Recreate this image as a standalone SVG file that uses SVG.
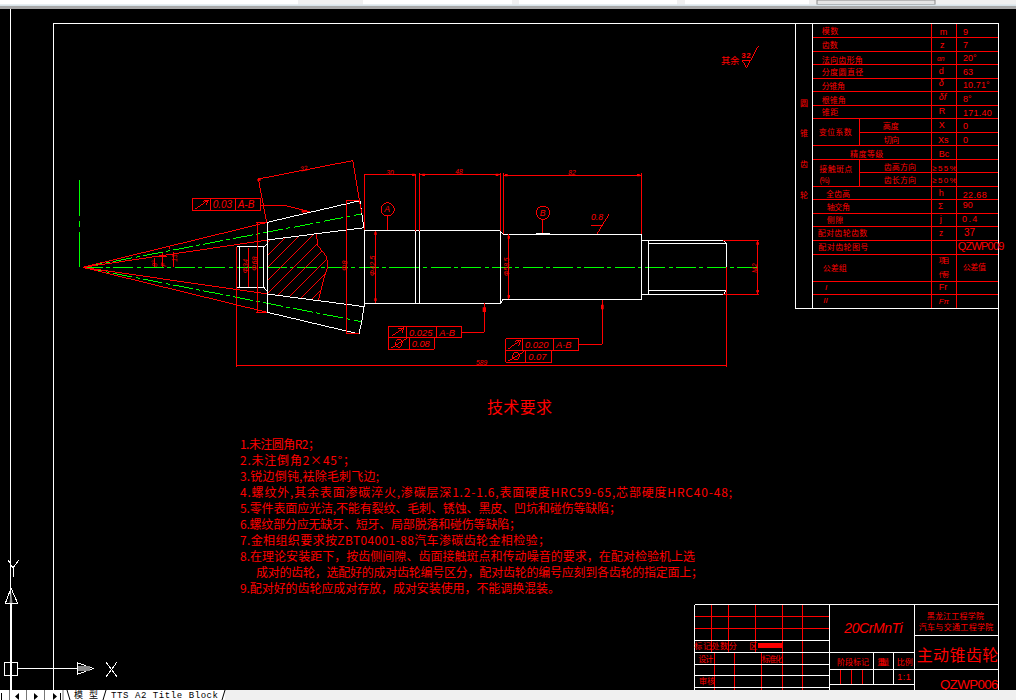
<svg xmlns="http://www.w3.org/2000/svg" width="1016" height="700" viewBox="0 0 1016 700">
<style>
.r,.w,.g,.ri{fill:none;shape-rendering:crispEdges}
.r{stroke:#f00}.w{stroke:#fff}.g{stroke:#0f0}
.f1{stroke-width:1}.f3{stroke-width:3}
.dg{stroke-dasharray:60 10 12 10}
text{fill:#f00;font-family:"Noto Sans CJK SC","Liberation Sans",sans-serif}
.t24{font-size:24px}
.l{font-family:"Liberation Sans","Noto Sans CJK SC",sans-serif}
.i{font-family:"Liberation Sans",sans-serif;font-style:italic}
.n{font-size:12px}
.ui{fill:#000}
</style>
<defs>
<clipPath id="hc"><path d="M622 270L770 250L772 285L800 320L803 352L792 385L775 452L622 432Z"/></clipPath>
</defs>
<rect width="1016" height="700" fill="#000"/>

<g id="toolbar">
<rect width="1016" height="8.7" fill="#f0f0f0"/>
<rect y="6" width="1016" height="2.7" fill="#a8a8a8"/>
<rect width="298" height="4.5" fill="#fff"/>
<rect x="363" width="149" height="4.5" fill="#fff"/>
<rect x="519" width="158" height="4.5" fill="#fff"/>
<rect x="685" width="124" height="4.5" fill="#fff"/>
<rect x="817" width="118" height="4.5" fill="#e4e4e4" stroke="#888" stroke-width="1"/>
<rect x="0" y="4.5" width="1016" height="1.5" fill="#d8e4ea"/>
</g>

<g id="frame">
<path class="w f1" d="M10.5 8.7V690M53.5 690V23.5H998.5V690"/>
</g>

<g id="ucs">
<path class="w f1" d="M11.5 600V690"/>
<path class="w f1" d="M13 577V568L19 560M13 568L8 560"/>
<path class="w f1" d="M11 588L5.500 603H17.500Z"/>
<path fill="#888" d="M11 591L9.500 603H12.500Z"/>
<rect class="w f1" x="4.500" y="662.500" width="13" height="13"/>
<path class="w f1" d="M17.500 668.500H77M77 662.500V674.500L93 668.500Z"/>
<path fill="#888" d="M78 666H90V671H78Z"/>
<path class="w f1" d="M106 662L117 677M117 662L106 677"/>
</g>

<g id="shaft-left" transform="translate(60 150) scale(.33333)">
<path class="g f3" d="M58 90V198M58 212V232M58 246V352"/>
<path class="g f3 dg" d="M68 352H1060"/>
<path class="g f3 dg" d="M68 352L905 192M68 352L905 515"/>
<path class="r f3" d="M68 352L622 217M68 352L622 270M68 352L622 487M68 352L622 432"/>
<path class="r f3" clip-path="url(#hc)" d="M420 480L670 230M458 480L708 230M496 480L746 230M534 480L784 230M572 480L822 230M610 480L860 230M648 480L898 230M686 480L936 230M724 480L974 230M762 480L1012 230M800 480L1050 230"/>
<path class="r f3" d="M770 250L772 285L800 320L803 352L792 385L775 452"/>
<path class="w f3" d="M622 217L900 152L905 190L913 240V465L905 515L897 552L622 487ZM622 270L913 233M622 432L913 470M913 243H1003M913 460H1003"/>
<path class="w f3" d="M530 290H612V412H530ZM538 290V412M612 290L622 282M612 412L622 424"/>
<path class="r f3" d="M595 87L878 32M595 87L620 217M878 30L905 190M602 168H680L750 185M592 217V487M589 217H622M589 487H622M860 152V552M857 152H900M857 552H897M565 295V410M529 290V652M529 647H1060M340 305V352M308 310V352M283 325V352M280 320H320M330 288V298M913 73V240M913 73H1060"/>
<rect class="r f3" x="397" y="145" width="205" height="37"/>
<path class="r f3" d="M452 145V182M527 145V182M405 178L445 150M428 154L445 150L438 165"/>
<path class="r f3" d="M947 243V460M983 198V243M970 243H1003"/>
<circle class="r f3" cx="983" cy="178" r="20" fill="none"/>
<path fill="#f00" d="M592 87h10v5h-10zM943 247h7v8h-7zM943 445h7v8h-7zM725 180l25 5-25 3z"/>
<text class="i" x="458" y="174" font-size="30">0.03</text>
<text class="i" x="533" y="174" font-size="30">A-B</text>
<text class="i" x="720" y="62" font-size="20" transform="rotate(-11 733 55)">32</text>
<text class="i" x="979" y="74" font-size="20">30</text>
<text class="i" x="973" y="187" font-size="26">A</text>
<text class="i" font-size="22" transform="translate(565 370) rotate(-90)">Φ34</text>
<text class="i" font-size="22" transform="translate(592 362) rotate(-90)">Φ68</text>
<text class="i" font-size="22" transform="translate(860 362) rotate(-90)">Φ8</text>
<text class="i" font-size="22" transform="translate(946 378) rotate(-90)">Φ42.5</text>
<text class="i" font-size="20" transform="translate(290 350) rotate(-90)">8°</text>
<text class="i" font-size="20" transform="translate(318 350) rotate(-90)">F</text>
<text class="i" font-size="20" transform="translate(350 335) rotate(-90)">13</text>
</g>

<g id="shaft-right" transform="translate(390 150) scale(.33333)">
<path class="g f3 dg" d="M30 352H1107"/>
<path class="w f3" d="M-20 243H78V460H-20M88 243V460M78 243H332V460H78M332 243L338 253H755V448H338L332 460M755 271H1000L1010 280V421L1000 433H755M775 271V433M775 280H1010M775 421H1010M438 250H480"/>
<path class="r f3" d="M78 73V243M88 70V243M332 70V243M78 73H-60M88 73H332M340 70V253M755 70V253M340 76H755M357 253V448M1000 271H1108M1000 433H1108M1103 271V433M1010 350V652M-200 647H1010M459 208V250M604 226H637L620 253L657 193"/>
<circle class="r f3" cx="459" cy="188" r="20" fill="none"/>
<path class="r f3" d="M215 547H283V458M566 583H637V450"/>
<path class="r f3" d="M-5 530H215V563H-5ZM50 530V563M140 530V563M-5 563H133V598H-5ZM58 563V598"/>
<path class="r f3" d="M347 566H566V601H347ZM398 566V601M491 566V601M347 601H485V637H347ZM407 601V637"/>
<path class="r f3" d="M5 558L42 533M25 537L42 533L36 550M355 597L392 570M375 574L392 570L386 587M2 595L50 566M355 633L403 604"/>
<ellipse class="r f3" cx="26" cy="580" rx="10" ry="12" transform="rotate(30 26 580)"/>
<ellipse class="r f3" cx="378" cy="618" rx="10" ry="12" transform="rotate(30 378 618)"/>
<path fill="#f00" d="M278 472h10v14h-10zM633 464h8v14h-8zM66 71h8v7h-8zM97 71h8v7h-8zM317 71h8v7h-8zM345 72h8v7h-8zM741 72h8v7h-8zM353 258h7v8h-7zM353 435h7v8h-7zM1099 277h8v7h-8zM1099 420h8v7h-8z"/>
<text class="i" x="57" y="557" font-size="28">0.025</text>
<text class="i" x="148" y="557" font-size="28">A-B</text>
<text class="i" x="65" y="591" font-size="28">0.08</text>
<text class="i" x="405" y="593" font-size="28">0.020</text>
<text class="i" x="498" y="593" font-size="28">A-B</text>
<text class="i" x="415" y="629" font-size="28">0.07</text>
<text class="i" x="196" y="73" font-size="20">48</text>
<text class="i" x="535" y="76" font-size="20">82</text>
<text class="i" x="258" y="646" font-size="20">589</text>
<text class="i" x="449" y="197" font-size="26">B</text>
<text class="i" x="603" y="209" font-size="26">0.8</text>
<text class="i" font-size="20" transform="translate(356 378) rotate(-90)">Φ58.5</text>
<text class="i" font-size="20" transform="translate(1102 368) rotate(-90)">M2</text>
</g>

<g id="roughness" transform="translate(700 30) scale(.33333)">
<path class="r f3" d="M127 92H152M127 92L140 113L175 48"/>
<text x="63" y="103" font-size="28" textLength="55">其余</text>
<text class="l" x="124" y="83" font-size="24" font-weight="bold" textLength="28">32</text>
</g>

<g id="title">
<text x="487" y="413" font-size="16" textLength="65">技术要求</text>
</g>

<g id="notes">
<text class="n" x="240" y="448.500" textLength="80">1.未注圆角R2；</text>
<text class="n" x="240" y="464.500" textLength="115">2.未注倒角2×45°；</text>
<text class="n" x="240" y="481" textLength="139">3.锐边倒钝,袪除毛刺飞边;</text>
<text class="n" x="240" y="497" textLength="492">4.螺纹外,其余表面渗碳淬火,渗碳层深1.2-1.6,表面硬度HRC59-65,芯部硬度HRC40-48;</text>
<text class="n" x="240" y="513" textLength="381">5.零件表面应光洁,不能有裂纹、毛刺、锈蚀、黑皮、凹坑和碰伤等缺陷；</text>
<text class="n" x="240" y="529" textLength="281">6.螺纹部分应无缺牙、短牙、局部脱落和碰伤等缺陷；</text>
<text class="n" x="240" y="545" textLength="310">7.金相组织要求按ZBT04001-88汽车渗碳齿轮金相检验；</text>
<text class="n" x="240" y="561" textLength="455">8.在理论安装距下，按齿侧间隙、齿面接触斑点和传动噪音的要求，在配对检验机上选</text>
<text class="n" x="256" y="577" textLength="447">成对的齿轮，选配好的成对齿轮编号区分，配对齿轮的编号应刻到各齿轮的指定面上；</text>
<text class="n" x="240" y="593" textLength="320">9.配对好的齿轮应成对存放，成对安装使用，不能调换混装。</text>
</g>

<g id="param-table">
<path class="r f1" d="M812 37.500H998M812 51.500H998M812 64.500H998M812 78.500H998M812 91.500H998M812 105.500H998M812 118.500H998M859 132.500H998M812 145.500H998M812 159.500H998M859 172.500H998M812 186.500H998M812 199.500H998M812 213.500H998M812 226.500H998M812 240.500H998M812 254.500H998M812 281.500H998M812 294.500H998M859.500 118.500V145.500M859.500 159.500V186.500M931.500 23.500V308.500M956.500 23.500V308.500"/>
<path class="w f1" d="M795.500 23.500V308.500H998.500M812.500 23.500V308.500"/>
<g transform="translate(790 20) scale(.33333)">
<text class="t24" x="95" y="43" textLength="50">模数</text>
<text class="t24" x="95" y="85" textLength="48">齿数</text>
<text class="t24" x="95" y="130" textLength="123">法向齿形角</text>
<text class="t24" x="95" y="166" textLength="125">分度圆直径</text>
<text class="t24" x="95" y="208" textLength="70">分锥角</text>
<text class="t24" x="95" y="248" textLength="72">根锥角</text>
<text class="t24" x="95" y="285" textLength="50">锥距</text>
<text class="t24" x="86" y="346" textLength="99">变位系数</text>
<text class="t24" x="278" y="327" textLength="48">高度</text>
<text class="t24" x="281" y="369" textLength="47">切向</text>
<text class="t24" x="180" y="411" textLength="100">精度等级</text>
<text class="t24" x="30" y="258" textLength="24">圆</text>
<text class="t24" x="30" y="348" textLength="24">锥</text>
<text class="t24" x="30" y="441" textLength="24">齿</text>
<text class="l" x="449" y="46" font-size="27">m</text>
<text class="l" x="450" y="84" font-size="27">z</text>
<text class="i" x="441" y="122" font-size="20">αn</text>
<text class="l" x="446" y="162" font-size="27">d</text>
<text class="i" x="446" y="199" font-size="27">δ</text>
<text class="i" x="446" y="241" font-size="27">δf</text>
<text class="l" x="446" y="281" font-size="27">R</text>
<text class="l" x="446" y="323" font-size="27">X</text>
<text class="l" x="444" y="368" font-size="27">Xs</text>
<text class="l" x="446" y="410" font-size="27">Bc</text>
<text class="l" x="519" y="44" font-size="27">9</text>
<text class="l" x="519" y="83" font-size="27">7</text>
<text class="l" x="519" y="124" font-size="27">20°</text>
<text class="l" x="519" y="165" font-size="27">63</text>
<text class="l" x="519" y="205" font-size="27" textLength="80">10.71°</text>
<text class="l" x="519" y="245" font-size="27">8°</text>
<text class="l" x="519" y="287" font-size="27" textLength="86">171.40</text>
<text class="l" x="519" y="328" font-size="27">0</text>
<text class="l" x="519" y="369" font-size="27">0</text>
</g>
<g transform="translate(790 165) scale(.33333)">
<text class="t24" x="88" y="20" textLength="99">接触斑点</text>
<text class="t24" x="281" y="16" textLength="97">齿高方向</text>
<text class="t24" x="88" y="54" textLength="32">(%)</text>
<text class="t24" x="281" y="54" textLength="97">齿长方向</text>
<text class="t24" x="108" y="96" textLength="72">全齿高</text>
<text class="t24" x="110" y="135" textLength="70">轴交角</text>
<text class="t24" x="110" y="175" textLength="50">侧隙</text>
<text class="t24" x="83" y="213" textLength="149">配对齿轮齿数</text>
<text class="t24" x="85" y="255" textLength="150">配对齿轮图号</text>
<text class="t24" x="98" y="318" textLength="72">公差组</text>
<text x="446" y="295" font-size="20" textLength="32">项目</text>
<text x="446" y="337" font-size="20" textLength="32">代号</text>
<text class="t24" x="518" y="316" textLength="70">公差值</text>
<text class="t24" x="30" y="98" textLength="24">轮</text>
<text class="l" x="427" y="17" font-size="24" textLength="73">≥55%</text>
<text class="l" x="427" y="55" font-size="24" textLength="73">≥50%</text>
<text class="l" x="446" y="93" font-size="27">h</text>
<text class="l" x="444" y="131" font-size="25">Σ</text>
<text class="l" x="449" y="172" font-size="27">j</text>
<text class="l" x="447" y="213" font-size="25">z</text>
<text class="l" x="446" y="375" font-size="27">Fr</text>
<text class="i" x="446" y="417" font-size="24">Fπ</text>
<text class="l" x="518" y="98" font-size="27" textLength="72">22.68</text>
<text class="l" x="518" y="130" font-size="27">90</text>
<text class="l" x="516" y="172" font-size="27" textLength="46">0.4</text>
<text class="l" x="522" y="214" font-size="30">37</text>
<text class="l" x="503" y="255" font-size="33" textLength="140">QZWP009</text>
<text class="i" x="105" y="376" font-size="24">I</text>
<text class="i" x="100" y="415" font-size="24">II</text>
</g>
</g>

<g id="title-block">
<path class="r f1" d="M694 616.500H829M694 628.500H829M711.500 604V652M728.500 604V652M755.500 604V652M714.500 652V690M734.500 652V690M761.500 652V690M782.500 604V690M802.500 604V690M840.500 669V684M851.500 669V684M862.500 669V684"/>
<rect x="758" y="643" width="24.500" height="5" fill="#f00"/>
<path class="w f1" d="M694.500 604.500H998M694.500 604.500V690M829.500 604.500V690M914.500 604.500V690M694.500 640.500H829M694.500 652.500H914M694.500 664.500H829M694.500 675.500H829M694.500 687.500H829M829.500 684.500H914M829.500 669.500H998M914.500 635.500H998M873.500 652.500V684.500M893.500 652.500V684.500"/>
<g transform="translate(690 600) scale(.33333)">
<text class="t24" x="13" y="148" textLength="127">标记处数分</text>
<text class="t24" x="178" y="148">区</text>
<text class="t24" x="25" y="187" textLength="45">设计</text>
<text class="t24" x="215" y="187" textLength="63">标准化</text>
<text class="t24" x="27" y="252" textLength="48">审核</text>
<text class="t24" x="441" y="195" textLength="96">阶段标记</text>
<text class="t24" x="562" y="195" textLength="36">重量</text>
<text class="t24" x="620" y="195" textLength="48">比例</text>
<text class="l" x="622" y="240" font-size="27" textLength="40">1:1</text>
<text class="i" x="463" y="100" font-size="42" textLength="175">20CrMnTi</text>
<text class="t24" x="710" y="58" textLength="172">黑龙江工程学院</text>
<text class="t24" x="686" y="90" textLength="224">汽车与交通工程学院</text>
<text x="680" y="183" font-size="48" textLength="245">主动锥齿轮</text>
<text class="l" x="750" y="267" font-size="40" textLength="175">QZWP006</text>
</g>
</g>

<g id="tabs">
<rect y="690" width="1016" height="10" fill="#f0f0f0"/>
<rect y="690" width="225" height="10" fill="#fff"/>
<path stroke="#777" stroke-width="1" fill="none" d="M9.500 690V700M26.500 690V700M44.500 690V700M63 690V700"/>
<path class="ui" d="M19 693L15 696.500L19 700ZM34 693L38 696.500L34 700ZM53 693L57 696.500L53 700Z"/>
<path class="ui" d="M1 693H2V700H1ZM60 693H61V700H60Z"/>
<path stroke="#000" stroke-width="1" fill="none" d="M67 690L70 700M106 690L103 700M225 690L222 700"/>
<text x="74" y="698" font-size="9" style="fill:#000" textLength="24">模型</text>
<text x="111" y="698" font-size="9" textLength="107" style="fill:#000;font-family:'Liberation Mono',monospace">TTS A2 Title Block</text>
</g>
</svg>
